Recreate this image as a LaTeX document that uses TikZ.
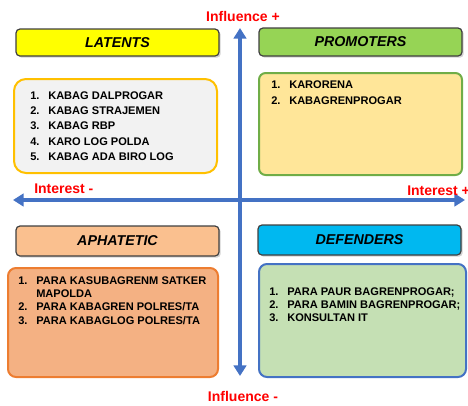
\documentclass[tikz,border=0pt]{standalone}
\usepackage{fontspec}
\setmainfont{Liberation Sans}
\usetikzlibrary{arrows.meta,shadows}

\definecolor{axisblue}{RGB}{68,114,196}
\definecolor{lblred}{RGB}{255,0,0}
\definecolor{latyellow}{RGB}{255,255,0}
\definecolor{promgreen}{RGB}{150,212,85}
\definecolor{aphpeach}{RGB}{250,192,143}
\definecolor{defcyan}{RGB}{0,184,240}
\definecolor{latfill}{RGB}{242,242,242}
\definecolor{latdraw}{RGB}{255,192,0}
\definecolor{promfill}{RGB}{255,230,153}
\definecolor{promdraw}{RGB}{112,173,71}
\definecolor{aphfill}{RGB}{244,177,131}
\definecolor{aphdraw}{RGB}{237,125,49}
\definecolor{deffill}{RGB}{197,224,180}
\definecolor{defdraw}{RGB}{68,114,196}

\newcommand{\itm}[2]{\makebox[13.5pt][l]{#1}#2}

\tikzset{
  axis/.style={draw=axisblue, line width=2.6pt, {Triangle[length=8pt,width=9.5pt]}-{Triangle[length=8pt,width=9.5pt]}},
  axislbl/.style={text=lblred, font=\fontsize{10.5}{12}\selectfont\bfseries, inner sep=0pt},
  headbox/.style={draw=black!75, line width=0.9pt, rounded corners=3pt, drop shadow={shadow xshift=1.3pt, shadow yshift=-1.3pt, opacity=0.35}},
  headtxt/.style={font=\fontsize{10.7}{12}\selectfont\bfseries\itshape, inner sep=0pt},
  bodybox/.style={line width=1.5pt},
  bodytxt/.style={anchor=north west, align=left, inner sep=0pt}
}

\begin{document}
\begin{tikzpicture}[x=0.75pt,y=0.75pt,yscale=-1,xscale=1]
\useasboundingbox (0,0) rectangle (468,405);

%Straight Lines: axes
\coordinate (top) at (240,28);
\coordinate (bottom) at (240,376);
\coordinate (left) at (13,200);
\coordinate (right) at (465,200);
\draw [axis] (bottom) -- (top);
\draw [axis] (left) -- (right);

% Text Node
\node [axislbl] (infplus) at (243,16) {Influence +};
\node [axislbl] (infminus) at (243,396) {Influence -};
\node [axislbl, anchor=west] (intminus) at (34,189) {Interest -};
\node [axislbl, anchor=west] (intplus) at (407,191) {Interest +};

%Shape: Rectangle latents
\draw [headbox, fill=latyellow] (16,29) rectangle (219,56);
\node [headtxt] (latents) at (117.5,42.5) {LATENTS};
\draw [bodybox, draw=latdraw, fill=latfill, rounded corners=9pt] (14,79) rectangle (217,173);
\node [bodytxt, font=\fontsize{8.3}{11.5}\selectfont\bfseries] (latlist) at (30,91)
  {\itm{1.}{KABAG DALPROGAR}\\\itm{2.}{KABAG STRAJEMEN}\\\itm{3.}{KABAG RBP}\\\itm{4.}{KARO LOG POLDA}\\\itm{5.}{KABAG ADA BIRO LOG}};

%Shape: Rectangle promoters
\draw [headbox, fill=promgreen] (259,28) rectangle (462,56);
\node [headtxt] (promoters) at (360.5,42) {PROMOTERS};
\draw [bodybox, draw=promdraw, fill=promfill, rounded corners=5pt] (259,73) rectangle (462,175);
\node [bodytxt, font=\fontsize{8.3}{12}\selectfont\bfseries] (promlist) at (271,80)
  {\itm{1.}{KARORENA}\\\itm{2.}{KABAGRENPROGAR}};

%Shape: Rectangle aphatetic
\draw [headbox, fill=aphpeach] (16,226) rectangle (219,256);
\node [headtxt] (aphatetic) at (117.5,241) {APHATETIC};
\draw [bodybox, draw=aphdraw, fill=aphfill, rounded corners=6pt] (8,268) rectangle (218,377);
\node [bodytxt, font=\fontsize{8.3}{10.1}\selectfont\bfseries] (aphlist) at (18,276)
  {\itm{1.}{\makebox[127.5pt][s]{PARA KASUBAGRENM SATKER}}\\\itm{}{MAPOLDA}\\\itm{2.}{PARA KABAGREN POLRES/TA}\\\itm{3.}{PARA KABAGLOG POLRES/TA}};

%Shape: Rectangle defenders
\draw [headbox, fill=defcyan] (258,225) rectangle (461,255);
\node [headtxt] (defenders) at (359.5,240) {DEFENDERS};
\draw [bodybox, draw=defdraw, fill=deffill, rounded corners=6pt] (259,264) rectangle (466,377);
\node [bodytxt, font=\fontsize{8.3}{9.8}\selectfont\bfseries] (deflist) at (269,287)
  {\itm{1.}{PARA PAUR BAGRENPROGAR;}\\\itm{2.}{PARA BAMIN BAGRENPROGAR;}\\\itm{3.}{KONSULTAN IT}};

\end{tikzpicture}
\end{document}
